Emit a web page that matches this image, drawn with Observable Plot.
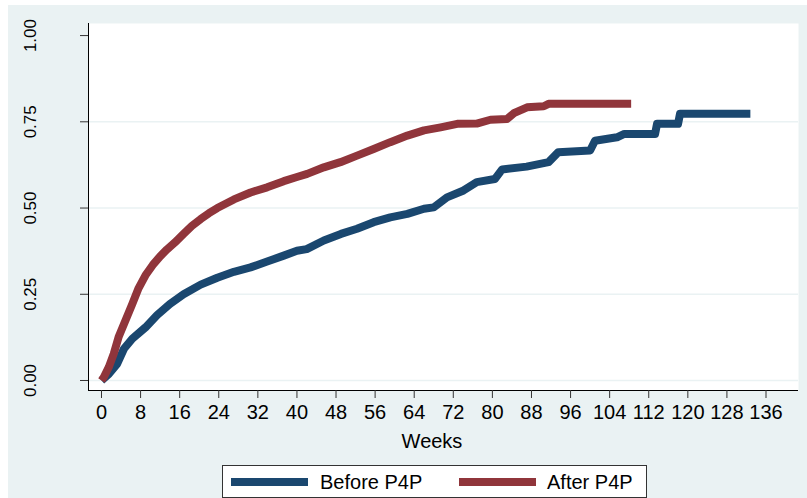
<!DOCTYPE html>
<html><head><meta charset="utf-8">
<script src="https://cdn.jsdelivr.net/npm/d3@7"></script>
<script src="https://cdn.jsdelivr.net/npm/@observablehq/plot@0.6"></script>
<style>
html,body{margin:0;padding:0;background:#fff;}
#wrap{position:relative;width:807px;height:498px;overflow:hidden;font-family:"Liberation Sans",Arial,sans-serif;color:#000;}
#bg{position:absolute;left:8px;top:5px;width:799px;height:493px;background:#eaf2f3;}
#chart{position:absolute;left:0;top:0;}
#xlabel{position:absolute;left:332px;width:200px;text-align:center;top:431px;font-size:20px;line-height:20px;}
#legend{position:absolute;left:222px;top:465px;width:423px;height:31px;border:1px solid #333;background:#fff;}
.sw{position:absolute;top:12px;width:77px;height:8px;}
.lt{position:absolute;top:6px;font-size:20px;line-height:20px;white-space:nowrap;}
</style>
</head>
<body>
<div id="wrap">
  <div id="bg"></div>
  <div id="chart"></div>
  <div id="xlabel">Weeks</div>
  <div id="legend"></div>
</div>
<script>
// Kaplan–Meier style cumulative curves
const beforeWeeks = [0, 1.5, 3.2, 4.6, 6.3, 9, 11.4, 14, 16.8, 20.3, 23.7, 27.1, 30.5, 33.9, 37.3, 40, 42, 45.5, 49, 52.3, 55.7, 59.1, 62.6, 66, 68, 70.7, 74.1, 76.8, 80.5, 82, 87, 91.5, 93.5, 100, 101, 105.5, 107, 113.3, 113.7, 118, 118.4, 132.8];
const beforeVals  = [0, 0.019, 0.048, 0.092, 0.121, 0.154, 0.19, 0.222, 0.25, 0.278, 0.298, 0.315, 0.328, 0.345, 0.362, 0.376, 0.381, 0.406, 0.425, 0.44, 0.459, 0.473, 0.483, 0.498, 0.502, 0.531, 0.551, 0.575, 0.584, 0.612, 0.62, 0.633, 0.662, 0.667, 0.695, 0.705, 0.715, 0.715, 0.744, 0.744, 0.773, 0.773];

const afterWeeks = [0, 0.5, 1.5, 2.5, 3.5, 4.9, 6.3, 7.6, 9, 10.5, 12, 13.4, 15, 16.8, 18.5, 20.3, 22, 23.7, 25.5, 27.1, 30.5, 33.9, 37.3, 40, 42.1, 45.5, 48.9, 52.3, 55.7, 59.1, 62.6, 66, 69.4, 72.8, 76.8, 79.6, 83, 84.4, 87.1, 90.5, 91.5, 108.4];
const afterVals  = [0, 0.01, 0.039, 0.077, 0.126, 0.174, 0.222, 0.268, 0.305, 0.335, 0.36, 0.38, 0.40, 0.425, 0.448, 0.468, 0.485, 0.50, 0.513, 0.525, 0.545, 0.56, 0.578, 0.59, 0.599, 0.618, 0.633, 0.652, 0.671, 0.691, 0.71, 0.725, 0.734, 0.744, 0.745, 0.756, 0.758, 0.775, 0.792, 0.795, 0.802, 0.802];

const seriesNames = ["Before P4P", "After P4P"];
const seriesColors = ["#1a476f", "#90353b"];
const xTicks = d3.range(0, 137, 8);
const yTicks = [0, 0.25, 0.5, 0.75, 1];
const yGrid = [0, 0.25, 0.5, 0.75];
const xDomain = [-2.66, 142.65];
const yDomain = [-0.029, 1.035];

const beforeData = beforeWeeks.map((w, i) => ({week: w, value: beforeVals[i]}));
const afterData = afterWeeks.map((w, i) => ({week: w, value: afterVals[i]}));

const chart = Plot.plot({
  width: 807, height: 455,
  marginLeft: 88, marginRight: 9, marginTop: 23, marginBottom: 65,
  style: {background: "transparent", fontFamily: "Liberation Sans, Arial, sans-serif", color: "#000"},
  x: {domain: xDomain},
  y: {domain: yDomain},
  marks: [
    Plot.frame({fill: "white", stroke: "none"}),
    Plot.ruleY(yGrid, {stroke: "#eaf2f3", strokeWidth: 1.5}),
    Plot.line(beforeData, {x: "week", y: "value", stroke: seriesColors[0], strokeWidth: 8, strokeLinejoin: "round", strokeLinecap: "butt"}),
    Plot.line(afterData, {x: "week", y: "value", stroke: seriesColors[1], strokeWidth: 8, strokeLinejoin: "round", strokeLinecap: "butt"}),
    Plot.ruleX([xDomain[0]], {stroke: "#000"}),
    Plot.ruleY([yDomain[0]], {stroke: "#000"}),
    Plot.axisY(yTicks, {tickSize: 8, tickRotate: -90, tickFormat: d3.format(".2f"), tickPadding: 45, fontSize: 17, label: null, stroke: "#333"}),
    Plot.axisX(xTicks, {tickSize: 8, tickPadding: 6, fontSize: 20, label: null, stroke: "#333"})
  ]
});
document.getElementById("chart").appendChild(chart);

const legend = document.getElementById("legend");
const legendPos = [[8, 97], [236, 324]];
seriesNames.forEach((name, i) => {
  const sw = document.createElement("div");
  sw.className = "sw";
  sw.style.left = legendPos[i][0] + "px";
  sw.style.background = seriesColors[i];
  legend.appendChild(sw);
  const t = document.createElement("div");
  t.className = "lt";
  t.style.left = legendPos[i][1] + "px";
  t.textContent = name;
  legend.appendChild(t);
});
</script>
</body></html>
